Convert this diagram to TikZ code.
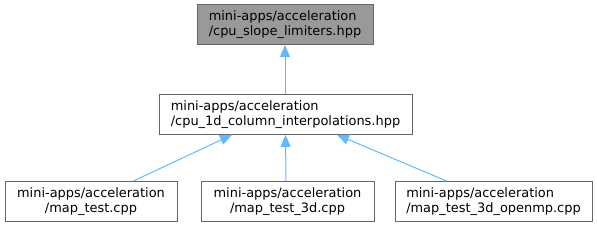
\documentclass[tikz,border=0pt]{standalone}
\usepackage{fontspec}
\setmainfont{DejaVu Sans}
\usetikzlibrary{arrows.meta,calc}
\definecolor{edgeblue}{HTML}{63B8FF}
\definecolor{boxborder}{HTML}{666666}
\definecolor{boxfill}{HTML}{999999}
\tikzset{
  filebox/.style={draw=boxborder, line width=0.75pt, fill=white, inner sep=0pt,
    minimum height=30pt, font=\fontsize{9.7}{11.5}\selectfont, text=black},
  hilite/.style={filebox, fill=boxfill},
  dep/.style={draw=edgeblue, line width=0.75pt, -{Triangle[length=9pt,width=7.5pt]}}
}
\begin{document}
\begin{tikzpicture}[x=0.75pt,y=-0.75pt]
\useasboundingbox (0,0) rectangle (597,227);
\node[hilite, minimum width=132pt, align=left] (top) at (285,24.5) {mini-apps/acceleration\\/cpu\_slope\_limiters.hpp};
\node[filebox, minimum width=189.75pt, align=left] (mid) at (285.5,114.3) {mini-apps/acceleration\\/cpu\_1d\_column\_interpolations.hpp};
\node[filebox, minimum width=129pt, align=center] (b1) at (91,201.7) {mini-apps/acceleration\\/map\_test.cpp};
\node[filebox, minimum width=129.75pt, align=center] (b2) at (287.5,201.7) {mini-apps/acceleration\\/map\_test\_3d.cpp};
\node[filebox, minimum width=147.75pt, align=left] (b3) at (493.5,201.7) {mini-apps/acceleration\\/map\_test\_3d\_openmp.cpp};
\draw[dep] (mid.north -| top.south) -- (top.south);
\draw[dep] ($(b1.north)+(42,0)$) -- ($(mid.south)+(-53.5,0)$);
\draw[dep] ($(b2.north)+(-1.5,0)$) -- ($(mid.south)+(0,0)$);
\draw[dep] ($(b3.north)+(-46.5,0)$) -- ($(mid.south)+(51.5,0)$);
\end{tikzpicture}
\end{document}
